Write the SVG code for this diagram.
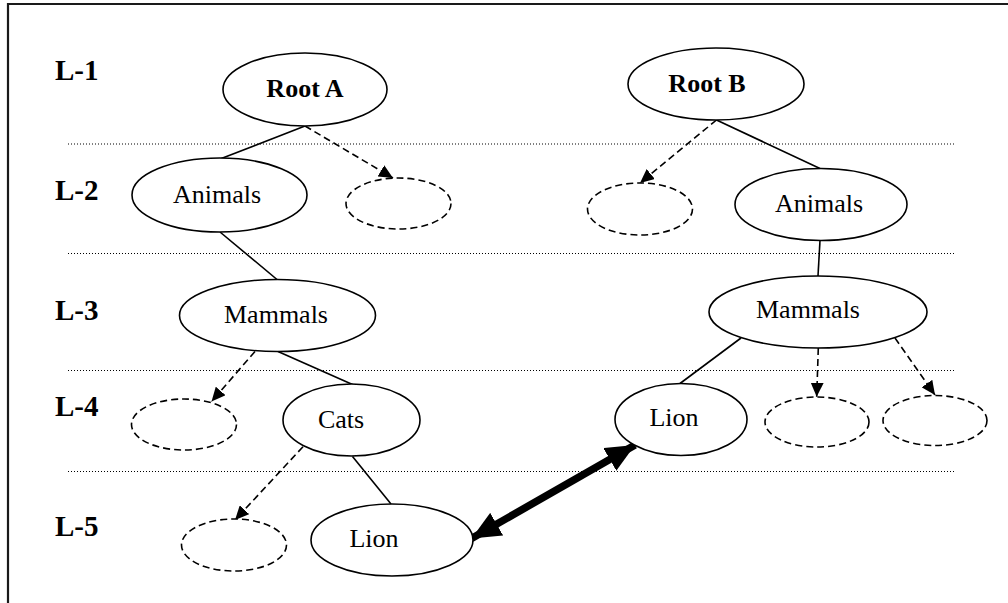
<svg xmlns="http://www.w3.org/2000/svg" width="1008" height="603" viewBox="0 0 1008 603">
<defs>
<style>
.n{fill:#fff;stroke:#000;stroke-width:1.6}
.d{fill:#fff;stroke:#000;stroke-width:1.6;stroke-dasharray:7,4}
.t{font-family:"Liberation Serif","Times New Roman",serif;font-size:26px;fill:#000;text-anchor:middle}
.b{font-weight:bold}
.lv{font-family:"Liberation Serif","Times New Roman",serif;font-size:29px;font-weight:bold;fill:#000}
.sep{stroke:#000;stroke-width:1;stroke-dasharray:1,2}
.e{stroke:#000;stroke-width:1.6;fill:none}
.de{stroke:#000;stroke-width:1.6;fill:none;stroke-dasharray:7,4;marker-end:url(#ah)}
</style>
<marker id="ah" markerUnits="userSpaceOnUse" markerWidth="15" markerHeight="13" refX="14" refY="6.5" orient="auto">
<path d="M0,0 L14,6.5 L0,13 z" fill="#000"/>
</marker>
<marker id="big" markerUnits="userSpaceOnUse" markerWidth="30" markerHeight="26" refX="29" refY="13" orient="auto-start-reverse">
<path d="M0,0 L29,13 L0,26 z" fill="#000"/>
</marker>
</defs>
<rect width="1008" height="603" fill="#fff"/>
<path d="M8,603 V4 H1008" fill="none" stroke="#1a1a1a" stroke-width="2.2"/>
<g id="separators">
<line class="sep" x1="68" y1="144" x2="956" y2="144"/>
<line class="sep" x1="68" y1="253.5" x2="956" y2="253.5"/>
<line class="sep" x1="68" y1="370.5" x2="956" y2="370.5"/>
<line class="sep" x1="68" y1="471.5" x2="956" y2="471.5"/>
</g>
<g id="levels">
<text class="lv" x="55" y="80">L-1</text>
<text class="lv" x="55" y="200">L-2</text>
<text class="lv" x="55" y="320">L-3</text>
<text class="lv" x="55" y="416">L-4</text>
<text class="lv" x="55" y="536">L-5</text>
</g>
<g id="connectors">
<line class="e" x1="305" y1="126" x2="220" y2="159"/>
<line class="de" x1="305" y1="126" x2="393" y2="178"/>
<line class="de" x1="716.5" y1="120" x2="640" y2="183"/>
<line class="e" x1="716.5" y1="120" x2="820" y2="168.5"/>
<line class="e" x1="220" y1="232" x2="277" y2="279.5"/>
<line class="e" x1="820" y1="240.5" x2="818" y2="276"/>
<line class="de" x1="255" y1="351.5" x2="211.5" y2="401.5"/>
<line class="e" x1="278" y1="351.5" x2="352.5" y2="384.5"/>
<line class="e" x1="741" y1="338" x2="680" y2="383.5"/>
<line class="de" x1="818.3" y1="348" x2="816.7" y2="396.7"/>
<line class="de" x1="895" y1="338" x2="935" y2="395"/>
<line class="de" x1="303" y1="446.7" x2="235" y2="520"/>
<line class="e" x1="352.5" y1="456.5" x2="391" y2="504"/>
<line x1="471.5" y1="538.5" x2="635" y2="445" stroke="#000" stroke-width="7.5" marker-start="url(#big)" marker-end="url(#big)"/>
</g>
<g id="rootA"><ellipse class="n" cx="305" cy="89.5" rx="82" ry="36.5"/><text class="t b" x="305" y="97">Root A</text></g>
<g id="rootB"><ellipse class="n" cx="716" cy="84" rx="88" ry="36"/><text class="t b" x="707" y="92">Root B</text></g>
<g id="animalsA"><ellipse class="n" cx="219.5" cy="195" rx="87.5" ry="37"/><text class="t" x="217" y="203">Animals</text></g>
<g id="emptyA2"><ellipse class="d" cx="398.5" cy="203.5" rx="52.5" ry="25.5"/></g>
<g id="emptyB2"><ellipse class="d" cx="640" cy="209" rx="52.5" ry="26"/></g>
<g id="animalsB"><ellipse class="n" cx="821" cy="204.5" rx="86" ry="36"/><text class="t" x="819" y="212">Animals</text></g>
<g id="mammalsA"><ellipse class="n" cx="277.5" cy="315.5" rx="98" ry="36"/><text class="t" x="276" y="323">Mammals</text></g>
<g id="mammalsB"><ellipse class="n" cx="818" cy="312" rx="109" ry="36"/><text class="t" x="808" y="318">Mammals</text></g>
<g id="emptyA4"><ellipse class="d" cx="184" cy="424.5" rx="52.5" ry="25.5"/></g>
<g id="catsA"><ellipse class="n" cx="351.5" cy="420" rx="68.5" ry="36"/><text class="t" x="341" y="428">Cats</text></g>
<g id="lionB"><ellipse class="n" cx="681" cy="419.5" rx="66" ry="36"/><text class="t" x="674" y="426">Lion</text></g>
<g id="emptyB4a"><ellipse class="d" cx="817" cy="422" rx="52" ry="25"/></g>
<g id="emptyB4b"><ellipse class="d" cx="935" cy="420.5" rx="52" ry="25"/></g>
<g id="emptyA5"><ellipse class="d" cx="234" cy="545" rx="52.5" ry="26"/></g>
<g id="lionA"><ellipse class="n" cx="392" cy="540" rx="81" ry="36"/><text class="t" x="374" y="547">Lion</text></g>
</svg>
